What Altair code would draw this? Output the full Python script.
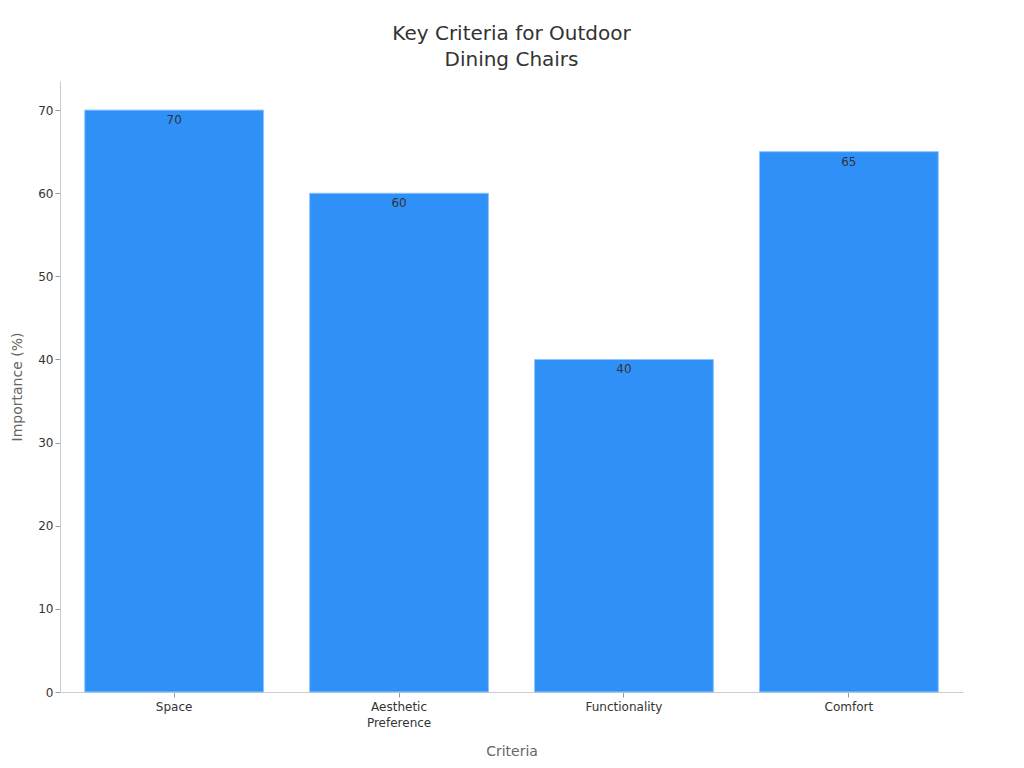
import altair as alt
import pandas as pd

categories = ["Space", "Aesthetic Preference", "Functionality", "Comfort"]
importance = [70, 60, 40, 65]

df = pd.DataFrame({"Criteria": categories, "Importance": importance})

FONT = "DejaVu Sans"

x = alt.X("Criteria:N", sort=categories, title="Criteria",
          scale=alt.Scale(paddingInner=0.205, paddingOuter=0.11),
          axis=alt.Axis(labelAngle=0, labelExpr="split(datum.label, ' ')",
                        labelFontSize=12, labelColor="#333333", labelFont=FONT,
                        labelLineHeight=16,
                        titleFontSize=14, titleColor="#666666", titleFont=FONT,
                        titleFontWeight="normal", titlePadding=16,
                        domainColor="#cccccc", tickColor="#999999", tickSize=5,
                        labelPadding=4))
y = alt.Y("Importance:Q", title="Importance (%)",
          scale=alt.Scale(domain=[0, 73.5], nice=False),
          axis=alt.Axis(values=[0, 10, 20, 30, 40, 50, 60, 70], grid=False,
                        labelFontSize=12, labelColor="#333333", labelFont=FONT,
                        titleFontSize=14, titleColor="#666666", titleFont=FONT,
                        titleFontWeight="normal", titlePadding=13,
                        domainColor="#cccccc", tickColor="#999999", tickSize=5))

bars = alt.Chart(df).mark_bar(color="#2F91F8", stroke="#8cc4fb", strokeWidth=1).encode(x=x, y=y)
text = alt.Chart(df).mark_text(baseline="top", dy=5, fontSize=12, color="#333333", font=FONT).encode(
    x=alt.X("Criteria:N", sort=categories), y=alt.Y("Importance:Q"), text="Importance:Q")

chart = (bars + text).properties(
    width=903, height=611,
    title=alt.TitleParams(["Key Criteria for Outdoor", "Dining Chairs"], fontSize=20,
                          font=FONT, fontWeight="normal", color="#333333",
                          anchor="middle", offset=11, lineHeight=26),
    autosize=alt.AutoSizeParams(type="none"),
    padding={"left": 52, "top": 73, "right": 53, "bottom": 76},
).configure_view(stroke=None)

chart.save("out.html", embed_options={"renderer": "svg", "actions": False})
